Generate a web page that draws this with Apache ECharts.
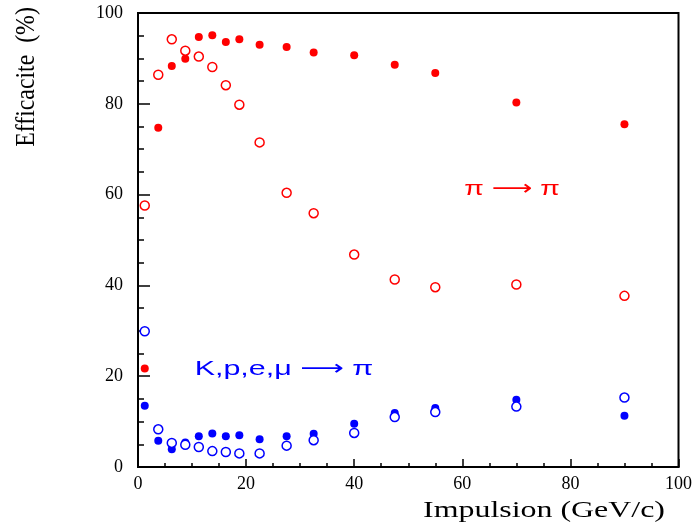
<!DOCTYPE html>
<html>
<head>
<meta charset="utf-8">
<script src="https://cdn.jsdelivr.net/npm/echarts@6/dist/echarts.min.js"></script>
<style>html,body{margin:0;padding:0;background:#fff;}#c{width:695px;height:525px;}</style>
</head>
<body>
<div id="c"></div>
<script>
// Momentum bins (GeV/c)
var pX = [1.25, 3.75, 6.25, 8.75, 11.25, 13.75, 16.25, 18.75, 22.5, 27.5, 32.5, 40, 47.5, 55, 70, 90];
// pi -> pi efficiency (%)
var piFilled = [21.7, 74.7, 88.3, 89.9, 94.7, 95.1, 93.6, 94.2, 93.0, 92.5, 91.3, 90.7, 88.6, 86.8, 80.3, 75.5];
var piOpen = [57.6, 86.4, 94.2, 91.7, 90.4, 88.1, 84.1, 79.8, 71.5, 60.4, 55.9, 46.8, 41.3, 39.6, 40.2, 37.7];
// K,p,e,mu -> pi misidentification (%)
var misFilled = [13.5, 5.8, 3.9, 5.4, 6.8, 7.4, 6.8, 7.0, 6.1, 6.8, 7.3, 9.5, 11.9, 13.0, 14.8, 11.3];
var misOpen = [29.9, 8.3, 5.3, 4.9, 4.4, 3.5, 3.3, 3.0, 3.0, 4.7, 5.9, 7.5, 11.0, 12.1, 13.3, 15.3];

var xTitle = 'Impulsion (GeV/c)';
var yTitle = 'Efficacite  (%)';
var labelPi = 'π ⟶ π';
var labelMis = 'K,p,e,μ ⟶ π';

function pairs(xs, ys) { return xs.map(function (x, i) { return [x, ys[i]]; }); }

var serif = '"Liberation Serif", "Times New Roman", serif';
var sans = '"Liberation Sans", "DejaVu Sans", sans-serif';
var chart = echarts.init(document.getElementById('c'), null, { renderer: 'canvas' });

function filled(name, data, color) {
  return { name: name, type: 'scatter', data: pairs(pX, data), symbol: 'circle', symbolSize: 8,
    itemStyle: { color: color, opacity: 1 }, z: 3, silent: true };
}
function open(name, data, color) {
  return { name: name, type: 'scatter', data: pairs(pX, data), symbol: 'circle', symbolSize: 9,
    itemStyle: { color: '#fff', borderColor: color, borderWidth: 1.5, opacity: 1 }, z: 3, silent: true };
}

chart.setOption({
  animation: false,
  backgroundColor: '#fff',
  grid: { left: 138, right: 16, top: 13, bottom: 58, show: true, borderColor: '#000', borderWidth: 2, backgroundColor: 'transparent' },
  xAxis: {
    type: 'value', min: 0, max: 100, interval: 20,
    axisLine: { show: true, lineStyle: { color: '#000', width: 2 } },
    axisTick: { show: true, inside: true, length: 8, lineStyle: { color: '#000', width: 1.5 } },
    minorTick: { show: true, splitNumber: 4, length: 4, lineStyle: { color: '#000', width: 1.5 } },
    splitLine: { show: false },
    axisLabel: { color: '#000', fontFamily: serif, fontSize: 18, margin: 8 }
  },
  yAxis: {
    type: 'value', min: 0, max: 100, interval: 20,
    axisLine: { show: true, lineStyle: { color: '#000', width: 2 } },
    axisTick: { show: true, inside: true, length: 12, lineStyle: { color: '#000', width: 1.5 } },
    minorTick: { show: true, splitNumber: 4, length: 6, lineStyle: { color: '#000', width: 1.5 } },
    splitLine: { show: false },
    axisLabel: { color: '#000', fontFamily: serif, fontSize: 18, margin: 15 }
  },
  graphic: [
    { type: 'text', x: 27, y: 77, rotation: Math.PI / 2, scaleX: 0.85,
      style: { text: yTitle, fill: '#000', font: '28px ' + serif, align: 'center', verticalAlign: 'middle' } },
    { type: 'text', x: 544, y: 511, scaleX: 1.33,
      style: { text: xTitle, fill: '#000', font: '24px ' + serif, align: 'center', verticalAlign: 'middle' } },
    { type: 'text', x: 512, y: 189, scaleX: 1.35,
      style: { text: labelPi, fill: '#ff0000', font: '21px ' + sans, align: 'center', verticalAlign: 'middle' } },
    { type: 'text', x: 284, y: 369, scaleX: 1.45,
      style: { text: labelMis, fill: '#0000ff', font: '21px ' + sans, align: 'center', verticalAlign: 'middle' } }
  ],
  series: [
    filled('pi->pi (filled)', piFilled, '#ff0000'),
    open('pi->pi (open)', piOpen, '#ff0000'),
    filled('K,p,e,mu->pi (filled)', misFilled, '#0000ff'),
    open('K,p,e,mu->pi (open)', misOpen, '#0000ff')
  ]
});
</script>
</body>
</html>
